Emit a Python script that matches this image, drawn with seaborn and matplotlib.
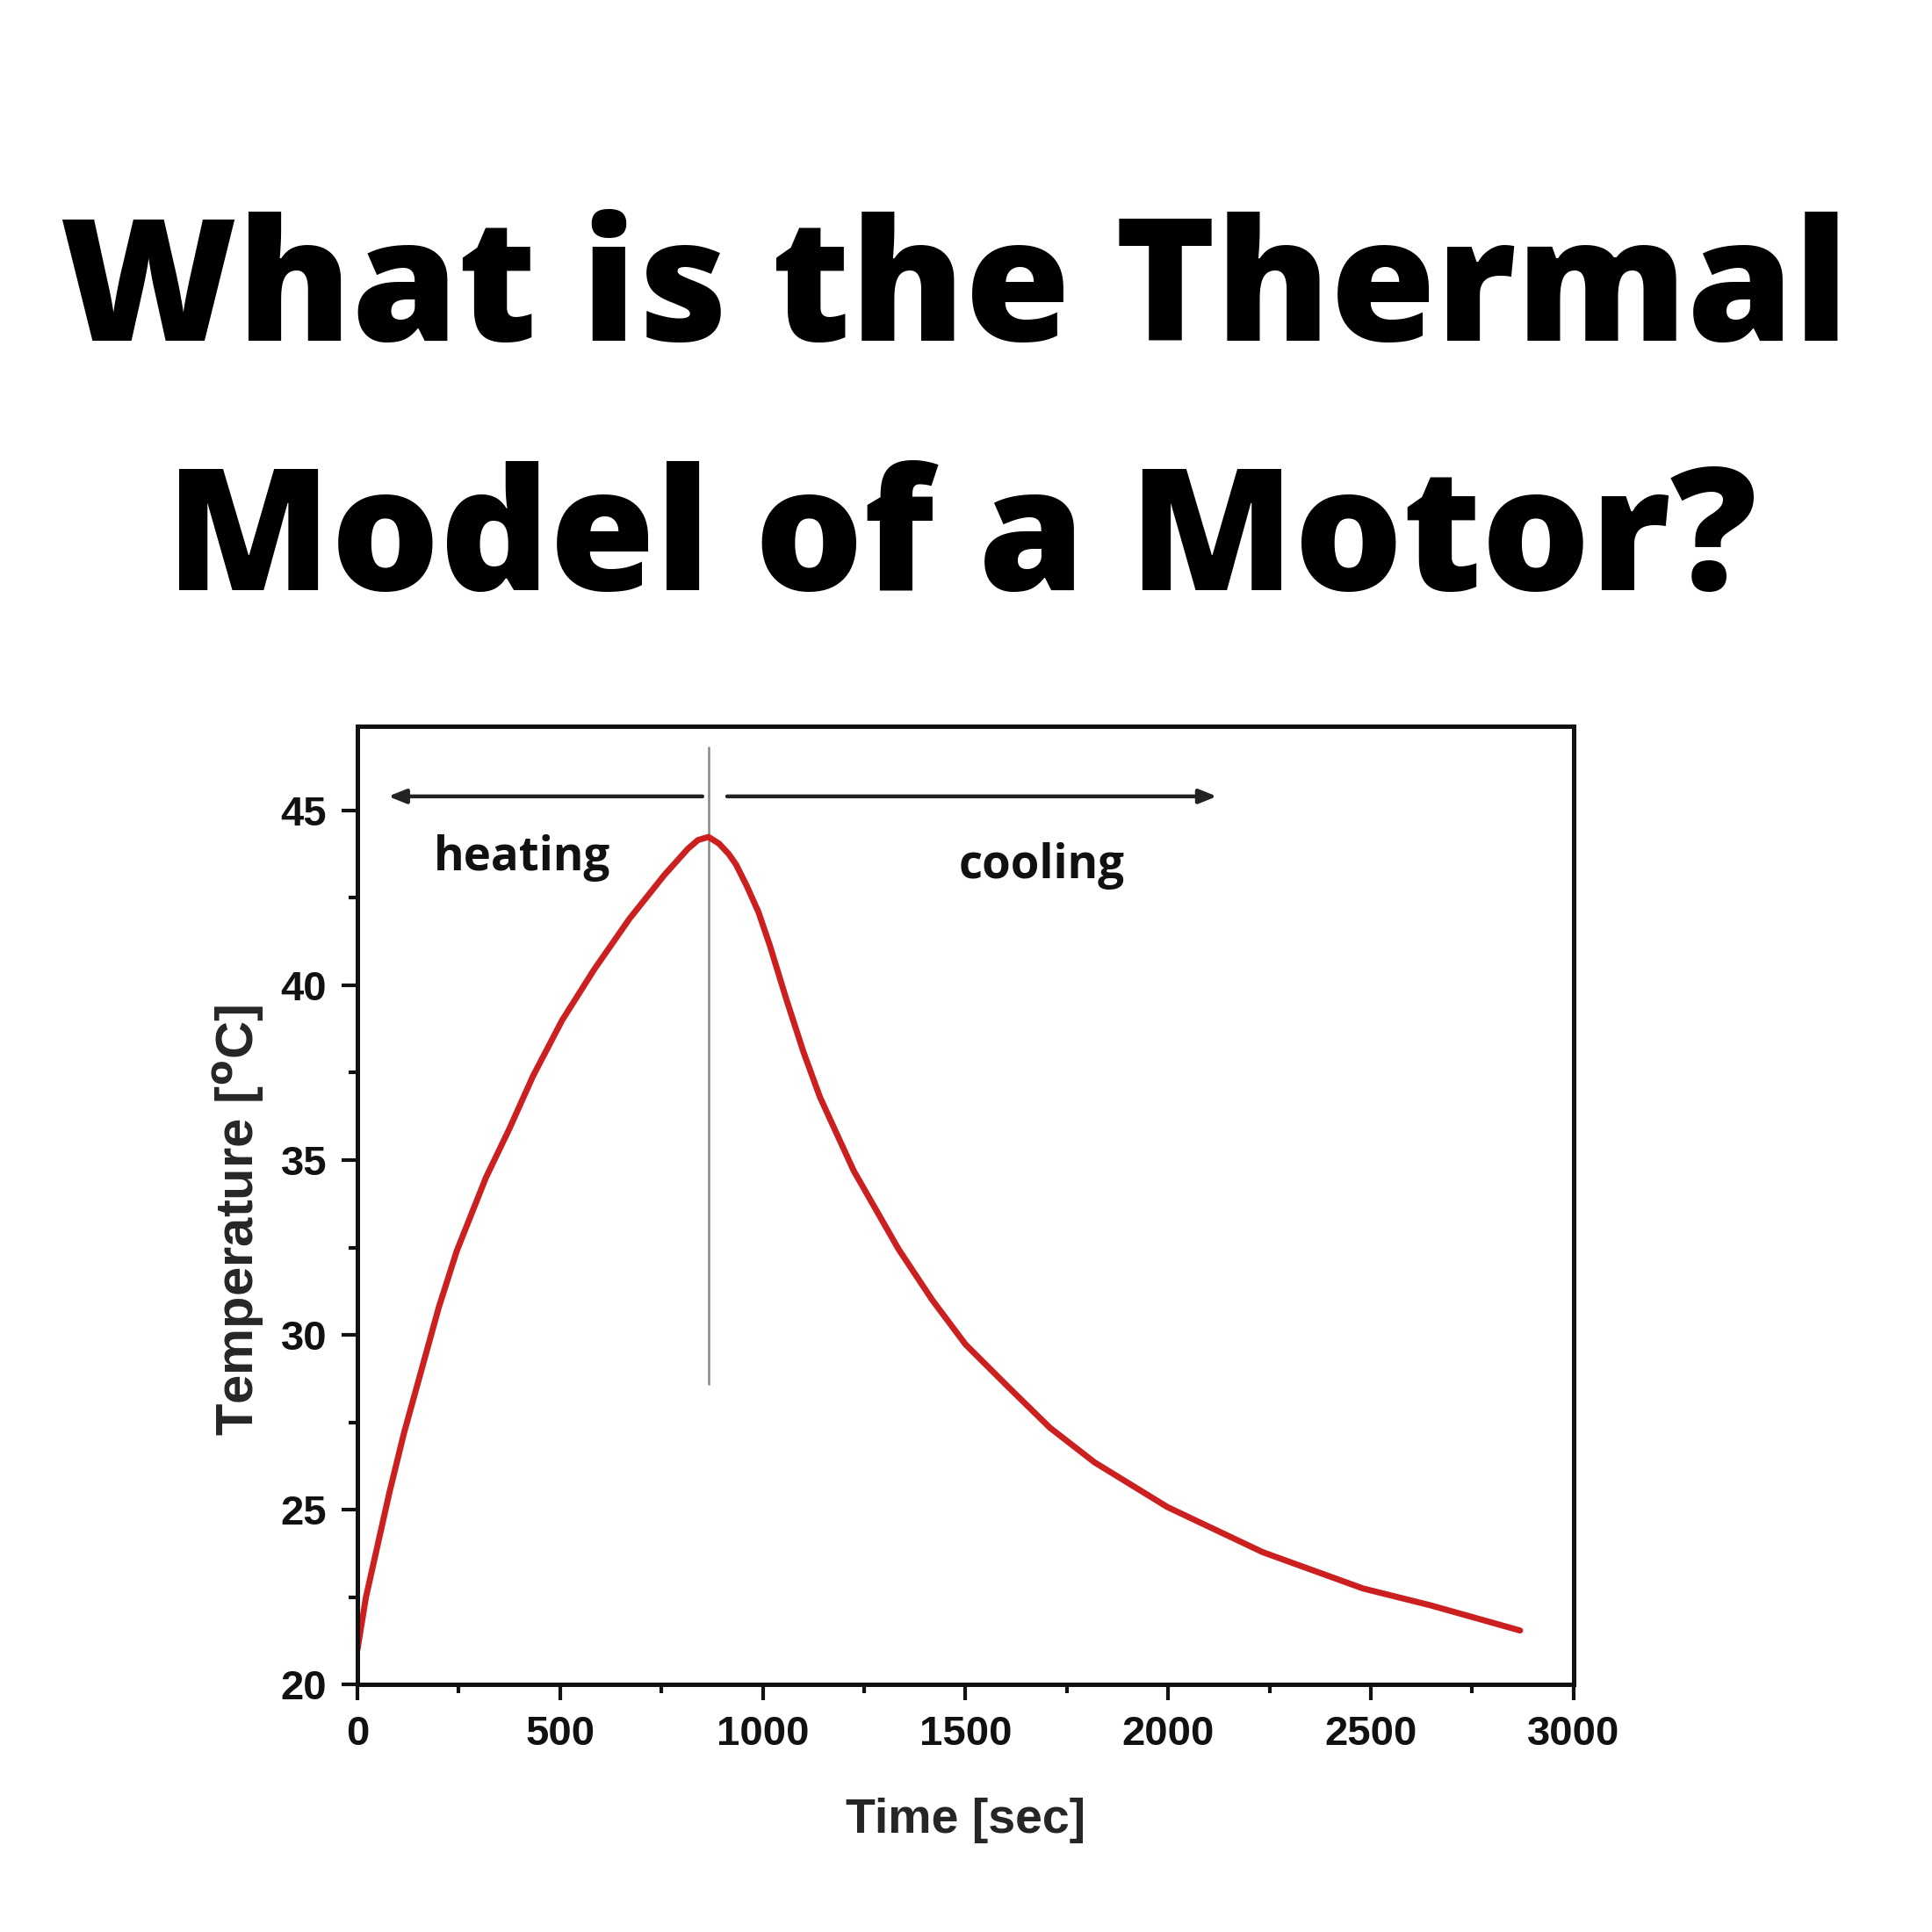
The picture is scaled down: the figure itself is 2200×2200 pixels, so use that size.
import matplotlib
matplotlib.use("Agg")
import matplotlib.pyplot as plt
import seaborn as sns
import pandas as pd
from matplotlib.ticker import MultipleLocator

# ---- data ----
time_s = [0, 21, 50, 79, 115, 158, 201, 245, 317, 375, 433, 505, 584, 671, 757, 815,
          840, 866, 892, 916, 934, 960, 989, 1017, 1058, 1100, 1141, 1224, 1335, 1418,
          1500, 1611, 1708, 1818, 1998, 2233, 2481, 2647, 2868]
temp_c = [21.0, 22.5, 24.0, 25.5, 27.2, 29.0, 30.8, 32.4, 34.5, 35.9, 37.4, 39.0, 40.45,
          41.9, 43.15, 43.9, 44.15, 44.24, 44.05, 43.75, 43.45, 42.85, 42.1, 41.15, 39.6,
          38.1, 36.8, 34.7, 32.45, 31.0, 29.73, 28.45, 27.35, 26.36, 25.08, 23.79, 22.75,
          22.27, 21.55]
peak_time = 866
x_ticks = [0, 500, 1000, 1500, 2000, 2500, 3000]
y_ticks = [20, 25, 30, 35, 40, 45]
title_lines = ["What is the Thermal", "Model of a Motor?"]
phase_labels = ["heating", "cooling"]

df = pd.DataFrame({"Time": time_s, "Temp": temp_c})

sns.set_theme(style="ticks")
plt.rcParams['font.family'] = ['Liberation Sans', 'DejaVu Sans']

fig = plt.figure(figsize=(11, 11), dpi=200)
fig.patch.set_facecolor("white")
ax = fig.add_axes([0.185, 0.128, 0.6295, 0.496])

sns.lineplot(data=df, x="Time", y="Temp", ax=ax, color="#cc2020", linewidth=2.5)

ax.set_xlim(0, 3000)
ax.set_ylim(20, 47.4)
ax.set_xticks(x_ticks)
ax.set_yticks(y_ticks)
ax.xaxis.set_minor_locator(MultipleLocator(250))
ax.yaxis.set_minor_locator(MultipleLocator(2.5))
ax.tick_params(axis="both", which="major", direction="out", length=6.5, width=1.5,
               labelsize=17, pad=6, colors="#111111")
ax.tick_params(axis="both", which="minor", direction="out", length=3.5, width=1.5,
               colors="#111111")
for lab in ax.get_xticklabels() + ax.get_yticklabels():
    lab.set_fontweight("bold")
for sp in ax.spines.values():
    sp.set_visible(True)
    sp.set_linewidth(1.8)
    sp.set_color("#111111")

ax.set_xlabel("Time [sec]", fontsize=20, fontweight="bold", labelpad=18)
ax.set_ylabel(r"Temperature [$\mathbf{^o}$C]", fontsize=21.5, fontweight="bold", labelpad=6)
ax.yaxis.label.set_y(0.485)

# vertical divider at peak
ax.plot([peak_time, peak_time], [46.8, 28.6], color="#888888", linewidth=0.9, zorder=1)

# arrows
ax.annotate("", xy=(76, 45.4), xytext=(851, 45.4),
            arrowprops=dict(arrowstyle="-|>,head_length=0.5,head_width=0.2",
                            color="#222222", lw=1.6, shrinkA=0, shrinkB=0))
ax.annotate("", xy=(2120, 45.4), xytext=(912, 45.4),
            arrowprops=dict(arrowstyle="-|>,head_length=0.5,head_width=0.2",
                            color="#222222", lw=1.6, shrinkA=0, shrinkB=0))

ax.text(407, 43.65, phase_labels[0], ha="center", va="center", fontsize=19,
        family=["Open Sans", "DejaVu Sans"], fontweight="bold", color="#111111")
ax.text(1687, 43.4, phase_labels[1], ha="center", va="center", fontsize=19,
        family=["Open Sans", "DejaVu Sans"], fontweight="bold", color="#111111")

fig.text(0.494, 1 - 0.1535, title_lines[0], ha="center", va="center", fontsize=70,
         family=["Open Sans", "DejaVu Sans"], fontweight="heavy", color="black")
fig.text(0.4977, 1 - 0.2825, title_lines[1], ha="center", va="center", fontsize=70,
         family=["Open Sans", "DejaVu Sans"], fontweight="heavy", color="black")

fig.savefig("out.png", dpi=200, facecolor="white")
